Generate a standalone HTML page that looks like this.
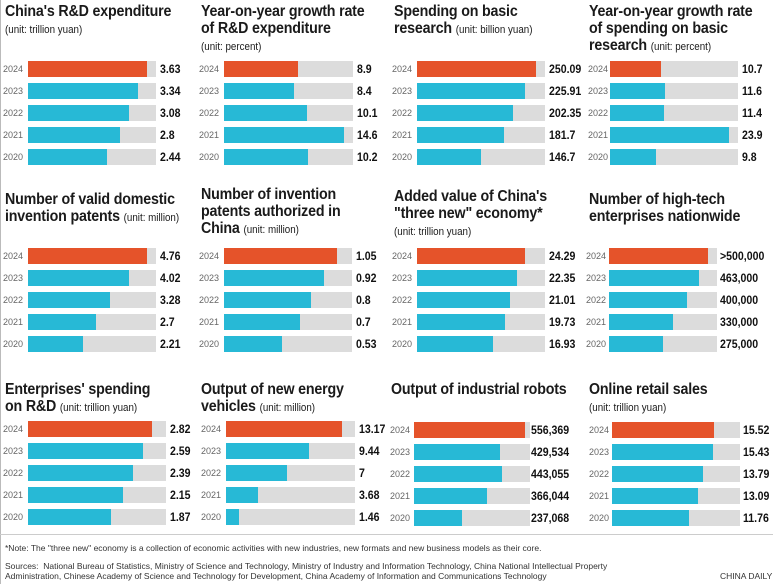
<!DOCTYPE html>
<html><head><meta charset="utf-8"><style>
*{margin:0;padding:0;box-sizing:border-box}
body{width:773px;height:584px;background:#fff;position:relative;overflow:hidden;font-family:"Liberation Sans",sans-serif;color:#222}
.p{position:absolute}
.t{position:absolute;font-weight:bold;font-size:16px;line-height:17px;color:#1a1a1a;letter-spacing:-0.2px;white-space:nowrap;transform:scaleX(0.89);transform-origin:0 0}
.u{font-weight:normal;font-size:11px;letter-spacing:0}
.r{position:absolute;height:16px;left:0;width:200px}
.y{position:absolute;left:0;top:3px;font-size:9.5px;color:#666;transform:scaleX(0.95);transform-origin:0 0}
.k{position:absolute;left:25px;top:0;height:16px;background:#dcdcdc}
.f{position:absolute;left:0;top:0;height:16px;background:#27b9d6}
.o .f{background:#e5532a}
.v{position:absolute;top:1px;font-weight:bold;font-size:12px;color:#111;transform:scaleX(0.88);transform-origin:0 0;white-space:nowrap}
.ft{position:absolute;left:5px;font-size:8.5px;color:#333;white-space:nowrap}
</style></head><body>
<div style="position:absolute;left:0;top:0;width:1px;height:584px;background:#bbb"></div>
<div style="position:absolute;left:0;top:534px;width:773px;height:1px;background:#ccc"></div>

<div class="t" style="left:5px;top:3px">China's R&amp;D expenditure<br><span class="u">(unit: trillion yuan)</span></div>
<div class="t" style="left:201px;top:3px">Year-on-year growth rate<br>of R&amp;D expenditure<br><span class="u">(unit: percent)</span></div>
<div class="t" style="left:394px;top:3px">Spending on basic<br>research <span class="u">(unit: billion yuan)</span></div>
<div class="t" style="left:589px;top:3px">Year-on-year growth rate<br>of spending on basic<br>research <span class="u">(unit: percent)</span></div>

<div class="t" style="left:5px;top:191px">Number of valid domestic<br>invention patents <span class="u">(unit: million)</span></div>
<div class="t" style="left:201px;top:186px">Number of invention<br>patents authorized in<br>China <span class="u">(unit: million)</span></div>
<div class="t" style="left:394px;top:188px">Added value of China's<br>"three new" economy*<br><span class="u">(unit: trillion yuan)</span></div>
<div class="t" style="left:589px;top:191px">Number of high-tech<br>enterprises nationwide</div>

<div class="t" style="left:5px;top:381px">Enterprises' spending<br>on R&amp;D <span class="u">(unit: trillion yuan)</span></div>
<div class="t" style="left:201px;top:381px">Output of new energy<br>vehicles <span class="u">(unit: million)</span></div>
<div class="t" style="left:391px;top:381px">Output of industrial robots</div>
<div class="t" style="left:589px;top:381px">Online retail sales<br><span class="u">(unit: trillion yuan)</span></div>

<div class="p" style="left:3px;top:61px">
<div class="r o" style="top:0"><span class="y">2024</span><div class="k" style="width:128px"><div class="f" style="width:93%"></div></div><span class="v" style="left:157px">3.63</span></div>
<div class="r" style="top:22px"><span class="y">2023</span><div class="k" style="width:128px"><div class="f" style="width:86%"></div></div><span class="v" style="left:157px">3.34</span></div>
<div class="r" style="top:44px"><span class="y">2022</span><div class="k" style="width:128px"><div class="f" style="width:79%"></div></div><span class="v" style="left:157px">3.08</span></div>
<div class="r" style="top:66px"><span class="y">2021</span><div class="k" style="width:128px"><div class="f" style="width:72%"></div></div><span class="v" style="left:157px">2.8</span></div>
<div class="r" style="top:88px"><span class="y">2020</span><div class="k" style="width:128px"><div class="f" style="width:62%"></div></div><span class="v" style="left:157px">2.44</span></div>
</div>
<div class="p" style="left:199px;top:61px">
<div class="r o" style="top:0"><span class="y">2024</span><div class="k" style="width:129px"><div class="f" style="width:57%"></div></div><span class="v" style="left:158px">8.9</span></div>
<div class="r" style="top:22px"><span class="y">2023</span><div class="k" style="width:129px"><div class="f" style="width:54%"></div></div><span class="v" style="left:158px">8.4</span></div>
<div class="r" style="top:44px"><span class="y">2022</span><div class="k" style="width:129px"><div class="f" style="width:64%"></div></div><span class="v" style="left:158px">10.1</span></div>
<div class="r" style="top:66px"><span class="y">2021</span><div class="k" style="width:129px"><div class="f" style="width:93%"></div></div><span class="v" style="left:158px">14.6</span></div>
<div class="r" style="top:88px"><span class="y">2020</span><div class="k" style="width:129px"><div class="f" style="width:65%"></div></div><span class="v" style="left:158px">10.2</span></div>
</div>
<div class="p" style="left:392px;top:61px">
<div class="r o" style="top:0"><span class="y">2024</span><div class="k" style="width:128px"><div class="f" style="width:93%"></div></div><span class="v" style="left:157px">250.09</span></div>
<div class="r" style="top:22px"><span class="y">2023</span><div class="k" style="width:128px"><div class="f" style="width:84%"></div></div><span class="v" style="left:157px">225.91</span></div>
<div class="r" style="top:44px"><span class="y">2022</span><div class="k" style="width:128px"><div class="f" style="width:75%"></div></div><span class="v" style="left:157px">202.35</span></div>
<div class="r" style="top:66px"><span class="y">2021</span><div class="k" style="width:128px"><div class="f" style="width:68%"></div></div><span class="v" style="left:157px">181.7</span></div>
<div class="r" style="top:88px"><span class="y">2020</span><div class="k" style="width:128px"><div class="f" style="width:50%"></div></div><span class="v" style="left:157px">146.7</span></div>
</div>
<div class="p" style="left:588px;top:61px">
<div class="r o" style="top:0"><span class="y">2024</span><div class="k" style="width:128px;left:22px"><div class="f" style="width:40%"></div></div><span class="v" style="left:154px">10.7</span></div>
<div class="r" style="top:22px"><span class="y">2023</span><div class="k" style="width:128px;left:22px"><div class="f" style="width:43%"></div></div><span class="v" style="left:154px">11.6</span></div>
<div class="r" style="top:44px"><span class="y">2022</span><div class="k" style="width:128px;left:22px"><div class="f" style="width:42%"></div></div><span class="v" style="left:154px">11.4</span></div>
<div class="r" style="top:66px"><span class="y">2021</span><div class="k" style="width:128px;left:22px"><div class="f" style="width:93%"></div></div><span class="v" style="left:154px">23.9</span></div>
<div class="r" style="top:88px"><span class="y">2020</span><div class="k" style="width:128px;left:22px"><div class="f" style="width:36%"></div></div><span class="v" style="left:154px">9.8</span></div>
</div>

<div class="p" style="left:3px;top:248px">
<div class="r o" style="top:0"><span class="y">2024</span><div class="k" style="width:128px"><div class="f" style="width:93%"></div></div><span class="v" style="left:157px">4.76</span></div>
<div class="r" style="top:22px"><span class="y">2023</span><div class="k" style="width:128px"><div class="f" style="width:79%"></div></div><span class="v" style="left:157px">4.02</span></div>
<div class="r" style="top:44px"><span class="y">2022</span><div class="k" style="width:128px"><div class="f" style="width:64%"></div></div><span class="v" style="left:157px">3.28</span></div>
<div class="r" style="top:66px"><span class="y">2021</span><div class="k" style="width:128px"><div class="f" style="width:53%"></div></div><span class="v" style="left:157px">2.7</span></div>
<div class="r" style="top:88px"><span class="y">2020</span><div class="k" style="width:128px"><div class="f" style="width:43%"></div></div><span class="v" style="left:157px">2.21</span></div>
</div>
<div class="p" style="left:199px;top:248px">
<div class="r o" style="top:0"><span class="y">2024</span><div class="k" style="width:128px"><div class="f" style="width:88%"></div></div><span class="v" style="left:157px">1.05</span></div>
<div class="r" style="top:22px"><span class="y">2023</span><div class="k" style="width:128px"><div class="f" style="width:78%"></div></div><span class="v" style="left:157px">0.92</span></div>
<div class="r" style="top:44px"><span class="y">2022</span><div class="k" style="width:128px"><div class="f" style="width:68%"></div></div><span class="v" style="left:157px">0.8</span></div>
<div class="r" style="top:66px"><span class="y">2021</span><div class="k" style="width:128px"><div class="f" style="width:59%"></div></div><span class="v" style="left:157px">0.7</span></div>
<div class="r" style="top:88px"><span class="y">2020</span><div class="k" style="width:128px"><div class="f" style="width:45%"></div></div><span class="v" style="left:157px">0.53</span></div>
</div>
<div class="p" style="left:392px;top:248px">
<div class="r o" style="top:0"><span class="y">2024</span><div class="k" style="width:128px"><div class="f" style="width:84%"></div></div><span class="v" style="left:157px">24.29</span></div>
<div class="r" style="top:22px"><span class="y">2023</span><div class="k" style="width:128px"><div class="f" style="width:78%"></div></div><span class="v" style="left:157px">22.35</span></div>
<div class="r" style="top:44px"><span class="y">2022</span><div class="k" style="width:128px"><div class="f" style="width:73%"></div></div><span class="v" style="left:157px">21.01</span></div>
<div class="r" style="top:66px"><span class="y">2021</span><div class="k" style="width:128px"><div class="f" style="width:69%"></div></div><span class="v" style="left:157px">19.73</span></div>
<div class="r" style="top:88px"><span class="y">2020</span><div class="k" style="width:128px"><div class="f" style="width:59%"></div></div><span class="v" style="left:157px">16.93</span></div>
</div>
<div class="p" style="left:586px;top:248px">
<div class="r o" style="top:0"><span class="y">2024</span><div class="k" style="width:108px;left:23px"><div class="f" style="width:92%"></div></div><span class="v" style="left:134px">&gt;500,000</span></div>
<div class="r" style="top:22px"><span class="y">2023</span><div class="k" style="width:108px;left:23px"><div class="f" style="width:83%"></div></div><span class="v" style="left:134px">463,000</span></div>
<div class="r" style="top:44px"><span class="y">2022</span><div class="k" style="width:108px;left:23px"><div class="f" style="width:72%"></div></div><span class="v" style="left:134px">400,000</span></div>
<div class="r" style="top:66px"><span class="y">2021</span><div class="k" style="width:108px;left:23px"><div class="f" style="width:59%"></div></div><span class="v" style="left:134px">330,000</span></div>
<div class="r" style="top:88px"><span class="y">2020</span><div class="k" style="width:108px;left:23px"><div class="f" style="width:50%"></div></div><span class="v" style="left:134px">275,000</span></div>
</div>

<div class="p" style="left:3px;top:421px">
<div class="r o" style="top:0"><span class="y">2024</span><div class="k" style="width:138px"><div class="f" style="width:90%"></div></div><span class="v" style="left:167px">2.82</span></div>
<div class="r" style="top:22px"><span class="y">2023</span><div class="k" style="width:138px"><div class="f" style="width:83%"></div></div><span class="v" style="left:167px">2.59</span></div>
<div class="r" style="top:44px"><span class="y">2022</span><div class="k" style="width:138px"><div class="f" style="width:76%"></div></div><span class="v" style="left:167px">2.39</span></div>
<div class="r" style="top:66px"><span class="y">2021</span><div class="k" style="width:138px"><div class="f" style="width:69%"></div></div><span class="v" style="left:167px">2.15</span></div>
<div class="r" style="top:88px"><span class="y">2020</span><div class="k" style="width:138px"><div class="f" style="width:60%"></div></div><span class="v" style="left:167px">1.87</span></div>
</div>
<div class="p" style="left:201px;top:421px">
<div class="r o" style="top:0"><span class="y">2024</span><div class="k" style="width:129px"><div class="f" style="width:90%"></div></div><span class="v" style="left:158px">13.17</span></div>
<div class="r" style="top:22px"><span class="y">2023</span><div class="k" style="width:129px"><div class="f" style="width:64%"></div></div><span class="v" style="left:158px">9.44</span></div>
<div class="r" style="top:44px"><span class="y">2022</span><div class="k" style="width:129px"><div class="f" style="width:47%"></div></div><span class="v" style="left:158px">7</span></div>
<div class="r" style="top:66px"><span class="y">2021</span><div class="k" style="width:129px"><div class="f" style="width:25%"></div></div><span class="v" style="left:158px">3.68</span></div>
<div class="r" style="top:88px"><span class="y">2020</span><div class="k" style="width:129px"><div class="f" style="width:10%"></div></div><span class="v" style="left:158px">1.46</span></div>
</div>
<div class="p" style="left:390px;top:422px">
<div class="r o" style="top:0"><span class="y">2024</span><div class="k" style="width:116px;left:24px"><div class="f" style="width:96%"></div></div><span class="v" style="left:141px">556,369</span></div>
<div class="r" style="top:22px"><span class="y">2023</span><div class="k" style="width:116px;left:24px"><div class="f" style="width:74%"></div></div><span class="v" style="left:141px">429,534</span></div>
<div class="r" style="top:44px"><span class="y">2022</span><div class="k" style="width:116px;left:24px"><div class="f" style="width:76%"></div></div><span class="v" style="left:141px">443,055</span></div>
<div class="r" style="top:66px"><span class="y">2021</span><div class="k" style="width:116px;left:24px"><div class="f" style="width:63%"></div></div><span class="v" style="left:141px">366,044</span></div>
<div class="r" style="top:88px"><span class="y">2020</span><div class="k" style="width:116px;left:24px"><div class="f" style="width:41%"></div></div><span class="v" style="left:141px">237,068</span></div>
</div>
<div class="p" style="left:589px;top:422px">
<div class="r o" style="top:0"><span class="y">2024</span><div class="k" style="width:128px;left:23px"><div class="f" style="width:80%"></div></div><span class="v" style="left:154px">15.52</span></div>
<div class="r" style="top:22px"><span class="y">2023</span><div class="k" style="width:128px;left:23px"><div class="f" style="width:79%"></div></div><span class="v" style="left:154px">15.43</span></div>
<div class="r" style="top:44px"><span class="y">2022</span><div class="k" style="width:128px;left:23px"><div class="f" style="width:71%"></div></div><span class="v" style="left:154px">13.79</span></div>
<div class="r" style="top:66px"><span class="y">2021</span><div class="k" style="width:128px;left:23px"><div class="f" style="width:67%"></div></div><span class="v" style="left:154px">13.09</span></div>
<div class="r" style="top:88px"><span class="y">2020</span><div class="k" style="width:128px;left:23px"><div class="f" style="width:60%"></div></div><span class="v" style="left:154px">11.76</span></div>
</div>

<div class="ft" style="top:543px">*Note: The "three new" economy is a collection of economic activities with new industries, new formats and new business models as their core.</div>
<div class="ft" style="top:561px">Sources:&nbsp; National Bureau of Statistics, Ministry of Science and Technology, Ministry of Industry and Information Technology, China National Intellectual Property</div>
<div class="ft" style="top:571px">Administration, Chinese Academy of Science and Technology for Development, China Academy of Information and Communications Technology</div>
<div class="ft" style="top:571px;left:720px">CHINA DAILY</div>
</body></html>
